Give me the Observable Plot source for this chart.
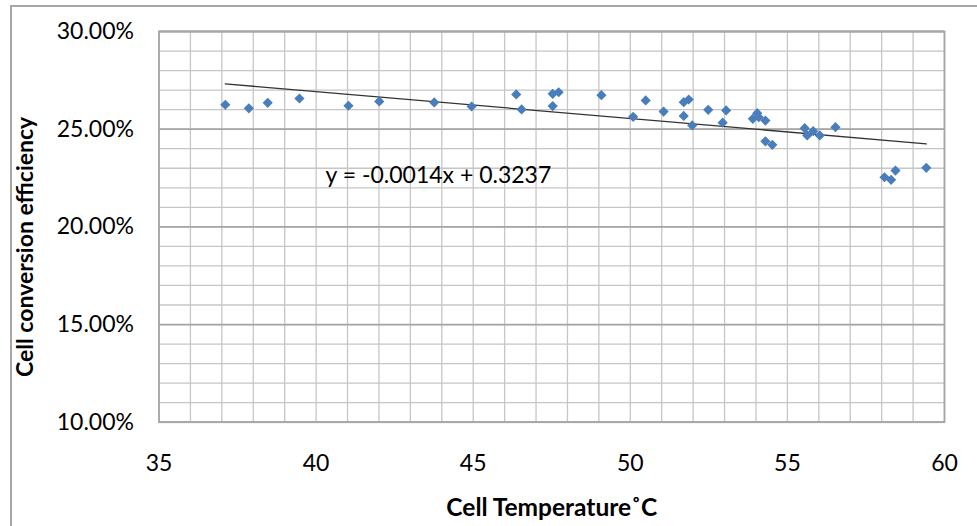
<!DOCTYPE html>
<html>
<head>
<meta charset="utf-8">
<script src="https://cdn.jsdelivr.net/npm/d3@7"></script>
<script src="https://cdn.jsdelivr.net/npm/@observablehq/plot@0.6"></script>
<style>
  html, body { margin: 0; padding: 0; background: #fff; overflow: hidden; }
  #wrap { position: relative; width: 977px; height: 526px; }
  #border { position: absolute; left: 10px; top: 5px; width: 1100px; height: 700px;
            border-left: 2px solid #a6a6a6; border-top: 2px solid #a6a6a6; }
  #chart { position: absolute; left: 0; top: 0; }
</style>
</head>
<body>
<div id="wrap"><div id="border"></div><div id="chart"></div></div>
<script>
// Cell temperature (°C)
const temperature = [37.11, 37.86, 38.46, 39.47, 41.03, 42.01, 43.76, 44.95, 46.37, 46.54,
  47.53, 47.72, 47.53, 49.08, 50.09, 50.49, 51.06, 51.70, 51.86, 51.70,
  51.97, 52.48, 53.05, 52.94, 53.90, 54.04, 54.09, 54.30, 54.30, 54.52,
  55.55, 55.63, 55.82, 56.03, 56.53, 58.09, 58.30, 58.44, 59.42];
// Cell conversion efficiency (fraction)
const efficiency = [0.2625, 0.2607, 0.2635, 0.2657, 0.2620, 0.2642, 0.2637, 0.2616, 0.2678, 0.2601,
  0.2681, 0.2689, 0.2618, 0.2674, 0.2563, 0.2647, 0.2590, 0.2638, 0.2652, 0.2568,
  0.2519, 0.2599, 0.2596, 0.2533, 0.2553, 0.2582, 0.2561, 0.2544, 0.2438, 0.2420,
  0.2505, 0.2468, 0.2490, 0.2468, 0.2510, 0.2254, 0.2241, 0.2288, 0.2302];
// Linear trend line end points (as drawn)
const trendX = [37.11, 59.42];
const trendY = [0.2732, 0.2425];
const trendLabel = "y = -0.0014x + 0.3237";

const xTicks = [35, 40, 45, 50, 55, 60];
const xGrid = [35,36,37,38,39,40,41,42,43,44,45,46,47,48,49,50,51,52,53,54,55,56,57,58,59,60];
const yTicks = [0.10, 0.15, 0.20, 0.25, 0.30];
const yGrid = [0.10,0.11,0.12,0.13,0.14,0.15,0.16,0.17,0.18,0.19,0.20,0.21,0.22,0.23,0.24,0.25,0.26,0.27,0.28,0.29,0.30];
const xTitle = "Cell Temperature˚C";
const yTitle = "Cell conversion efficiency";

const points = temperature.map((t, i) => ({t, e: efficiency[i]}));
const trend = trendX.map((t, i) => ({t, e: trendY[i]}));

const chart = Plot.plot({
  width: 977,
  height: 526,
  marginLeft: 158.5,
  marginRight: 33,
  marginTop: 31,
  marginBottom: 104.3,
  style: { fontFamily: "Lato, 'Liberation Sans', Arial, sans-serif", background: "transparent", color: "#000" },
  x: { domain: [35, 60], ticks: xTicks, tickSize: 0, tickPadding: 32, label: null },
  y: { domain: [0.10, 0.30], ticks: yTicks, tickFormat: d3.format(".2%"), tickSize: 0, tickPadding: 25, label: null },
  marks: [
    Plot.ruleX(xGrid, { stroke: "#c6c6c6", strokeWidth: 1.3 }),
    Plot.ruleY(yGrid, { stroke: "#c6c6c6", strokeWidth: 1.3 }),
    Plot.ruleY(yTicks, { stroke: "#a6a6a6", strokeWidth: 1.8 }),
    Plot.frame({ stroke: "#a6a6a6", strokeWidth: 1.8 }),
    Plot.axisX({ ticks: xTicks, tickSize: 0, tickPadding: 32, fontSize: 23, label: null }),
    Plot.axisY({ ticks: yTicks, tickFormat: d3.format(".2%"), tickSize: 0, tickPadding: 25, fontSize: 23, label: null }),
    Plot.line(trend, { x: "t", y: "e", stroke: "#333", strokeWidth: 1.3 }),
    Plot.dot(points, { x: "t", y: "e", symbol: "diamond2", r: 4.6, fill: "#4a7ebb", stroke: "none" }),
    Plot.text([trendLabel], { text: d => d, frameAnchor: "top-left", dx: 166.5, dy: 144.5, textAnchor: "start", lineAnchor: "middle", fontSize: 23, fill: "#000" }),
    Plot.text([xTitle], { text: d => d, frameAnchor: "bottom", dy: 85.5, textAnchor: "middle", lineAnchor: "middle", fontSize: 24.5, fontWeight: "bold", fill: "#000" }),
    Plot.text([yTitle], { text: d => d, frameAnchor: "left", dx: -133, dy: 20, rotate: -90, textAnchor: "middle", lineAnchor: "middle", fontSize: 23, fontWeight: "bold", fill: "#000" })
  ]
});
document.getElementById("chart").appendChild(chart);
</script>
</body>
</html>
